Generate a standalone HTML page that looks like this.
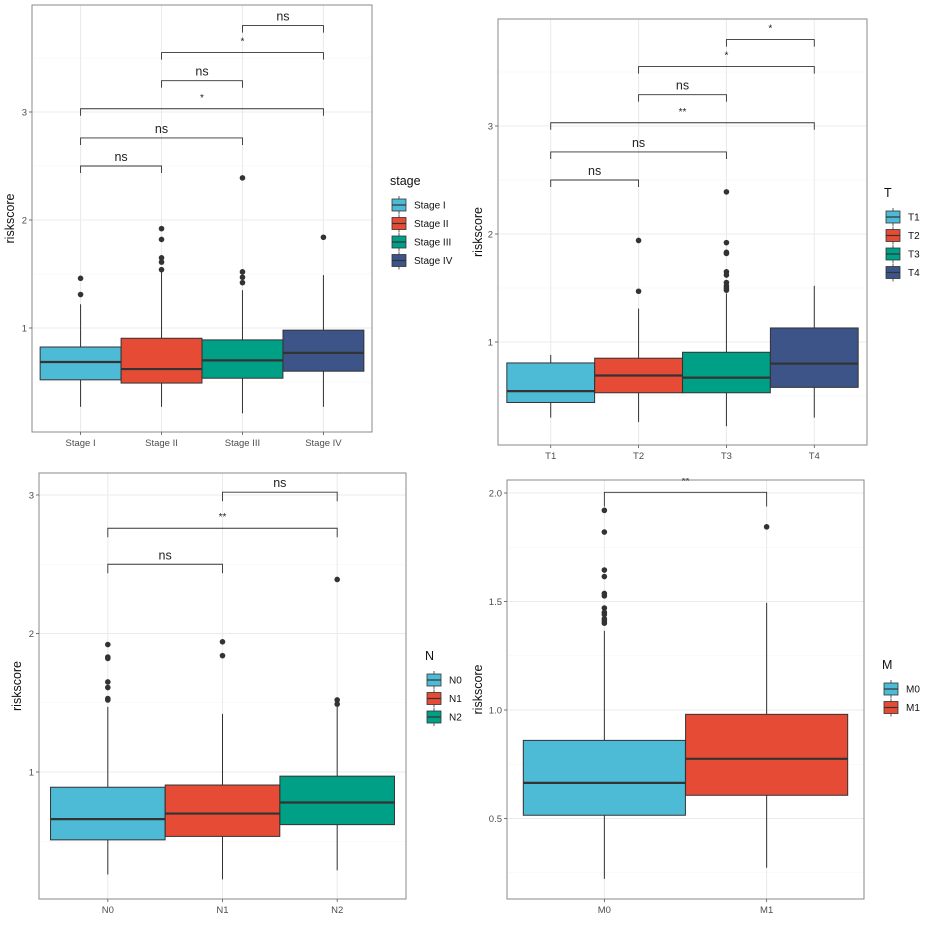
<!DOCTYPE html>
<html><head><meta charset="utf-8"><style>
html,body{margin:0;padding:0;background:#fff;}
svg{display:block;font-family:"Liberation Sans",Arial,sans-serif;}
</style></head><body>
<svg id="fig" width="933" height="933" viewBox="0 0 933 933"></svg>
<script>
const NS="http://www.w3.org/2000/svg";
const COLORS=["#4DBBD5","#E64B35","#00A087","#3C5488"];

// ---- Panel A: stage ----
const stageCats=["Stage I","Stage II","Stage III","Stage IV"];
const stageQ1=[0.52,0.49,0.535,0.60];
const stageMed=[0.685,0.62,0.70,0.77];
const stageQ3=[0.824,0.905,0.89,0.98];
const stageLo=[0.27,0.27,0.21,0.27];
const stageHi=[1.22,1.53,1.35,1.49];
const stageOut=[[1.46,1.31],[1.92,1.82,1.65,1.61,1.54],[2.39,1.52,1.47,1.42],[1.84]];
const stageBr=[[0,1,2.5,"ns"],[0,2,2.76,"ns"],[0,3,3.03,"*"],[1,2,3.29,"ns"],[1,3,3.55,"*"],[2,3,3.8,"ns"]];
const stageTicks=[1,2,3];

// ---- Panel B: T ----
const tCats=["T1","T2","T3","T4"];
const tQ1=[0.44,0.53,0.53,0.58];
const tMed=[0.545,0.69,0.67,0.80];
const tQ3=[0.806,0.85,0.905,1.13];
const tLo=[0.30,0.26,0.22,0.30];
const tHi=[0.88,1.31,1.45,1.52];
const tOut=[[],[1.94,1.47],[2.39,1.92,1.83,1.82,1.65,1.62,1.55,1.52,1.50,1.48],[]];
const tBr=[[0,1,2.5,"ns"],[0,2,2.76,"ns"],[0,3,3.03,"**"],[1,2,3.29,"ns"],[1,3,3.55,"*"],[2,3,3.8,"*"]];
const tTicks=[1,2,3];

// ---- Panel C: N ----
const nCats=["N0","N1","N2"];
const nQ1=[0.51,0.535,0.62];
const nMed=[0.66,0.70,0.78];
const nQ3=[0.89,0.906,0.97];
const nLo=[0.26,0.225,0.29];
const nHi=[1.47,1.42,1.47];
const nOut=[[1.92,1.83,1.82,1.65,1.61,1.53,1.52],[1.94,1.84],[2.39,1.52,1.49]];
const nBr=[[0,1,2.5,"ns"],[0,2,2.76,"**"],[1,2,3.02,"ns"]];
const nTicks=[1,2,3];

// ---- Panel D: M ----
const mCats=["M0","M1"];
const mQ1=[0.515,0.607];
const mMed=[0.664,0.775];
const mQ3=[0.86,0.98];
const mLo=[0.222,0.273];
const mHi=[1.365,1.494];
const mOut=[[1.92,1.82,1.645,1.615,1.537,1.526,1.47,1.45,1.44,1.42,1.41,1.40],[1.844]];
const mBr=[[0,1,2.003,"**"]];
const mTicks=[0.5,1.0,1.5,2.0];

function mk(tag,attrs,parent){const e=document.createElementNS(NS,tag);for(const k in attrs)e.setAttribute(k,attrs[k]);parent.appendChild(e);return e;}
const svg=document.getElementById("fig");

function panel(o){
  const g=mk("g",{},svg);
  
  
  const clipId=o.name+"-clip";
  const cp=mk("clipPath",{id:clipId},g);
  mk("rect",{x:o.x0,y:o.clipTop||o.y0,width:o.x1-o.x0,height:o.y1-(o.clipTop||o.y0)},cp);
  const y=v=>o.yRef-(v-o.vRef)*o.ppu;
  const n=o.cats.length;
  const step=(o.x1-o.x0)/(n+0.2);
  const x=i=>o.x0+step*(0.6+i);
  const bw=step*0.999;
  // grid
  const grid=mk("g",{},g);
  
  
  const half=(o.ticks[1]-o.ticks[0])/2;
  for(let v=o.ticks[0]-4*half; v<=o.ticks[o.ticks.length-1]+4*half+1e-9; v+=half){
    const yy=y(v); if(yy<o.y0||yy>o.y1) continue;
    const major=o.ticks.some(t=>Math.abs(t-v)<1e-6);
    mk("line",{x1:o.x0,x2:o.x1,y1:yy,y2:yy,stroke:major?"#ebebeb":"#f4f4f4","stroke-width":major?1.1:0.6},grid);
  }
  for(let i=0;i<n;i++) mk("line",{x1:x(i),x2:x(i),y1:o.y0,y2:o.y1,stroke:"#ebebeb","stroke-width":1.1},grid);
  // boxes
  const marks=mk("g",{"clip-path":`url(#${clipId})`},g);
  for(let i=0;i<n;i++){
    const cx=x(i);
    const w=mk("line",{x1:cx,x2:cx,y1:y(o.hi[i]),y2:y(o.q3[i]),stroke:"#333","stroke-width":1},marks);
    
    
    const w2=mk("line",{x1:cx,x2:cx,y1:y(o.q1[i]),y2:y(o.lo[i]),stroke:"#333","stroke-width":1},marks);
    
    
    const r=mk("rect",{x:cx-bw/2,y:y(o.q3[i]),width:bw,height:y(o.q1[i])-y(o.q3[i]),fill:COLORS[i],stroke:"#333","stroke-width":1},marks);
    
    
    const m=mk("line",{x1:cx-bw/2,x2:cx+bw/2,y1:y(o.med[i]),y2:y(o.med[i]),stroke:"#333","stroke-width":2.2},marks);
    
    
    for(const v of o.out[i]){
      const c=mk("circle",{cx:cx,cy:y(v),r:2.8,fill:"#333"},marks);
      
      
    }
  }
  // brackets
  const tk=o.ppu*0.065;
  for(const b of o.br){
    const xa=x(b[0]),xb=x(b[1]),yy=y(b[2]);
    const p=mk("path",{d:`M${xa},${yy+tk}V${yy}H${xb}V${yy+tk}`,fill:"none",stroke:"#333","stroke-width":0.9},marks);
    
    
    const isNs=b[3]==="ns";
    const t=mk("text",{x:(xa+xb)/2,y:isNs?yy-5:yy-8,"text-anchor":"middle","font-size":isNs?12.5:10,fill:"#222"},marks);
    t.textContent=b[3];
    
    
  }
  // border
  const bd=mk("rect",{x:o.x0,y:o.y0,width:o.x1-o.x0,height:o.y1-o.y0,fill:"none",stroke:"#8a8a8a","stroke-width":1},g);
  
  
  // y ticks
  for(const v of o.ticks){
    const yy=y(v);
    mk("line",{x1:o.x0-3,x2:o.x0,y1:yy,y2:yy,stroke:"#555","stroke-width":0.8},g);
    const t=mk("text",{x:o.x0-5,y:yy+3.5,"text-anchor":"end","font-size":9.5,fill:"#4d4d4d"},g);
    t.textContent=o.fmt?v.toFixed(1):String(v);
    
    
  }
  // x ticks
  for(let i=0;i<n;i++){
    mk("line",{x1:x(i),x2:x(i),y1:o.y1,y2:o.y1+3,stroke:"#555","stroke-width":0.8},g);
    const t=mk("text",{x:x(i),y:o.y1+14,"text-anchor":"middle","font-size":9.5,fill:"#4d4d4d"},g);
    t.textContent=o.cats[i];
    
    
  }
  // y title
  const yt=mk("text",{x:0,y:0,transform:`translate(${o.ylx},${(o.y0+o.y1)/2}) rotate(-90)`,"text-anchor":"middle","font-size":12.5,fill:"#111"},g);
  yt.textContent="riskscore";
  
  
  // legend
  const lg=mk("g",{},g);
  
  
  const lt=mk("text",{x:o.lx,y:o.ly,"font-size":12.5,fill:"#111"},lg);
  lt.textContent=o.title;
  
  
  for(let i=0;i<n;i++){
    const ky=o.ly+20+i*18.5;
    const e=mk("g",{},lg);
    
    
    mk("line",{x1:o.lx+9,x2:o.lx+9,y1:ky-9,y2:ky+9,stroke:"#333","stroke-width":0.8},e);
    mk("rect",{x:o.lx+2,y:ky-6,width:14,height:12,fill:COLORS[i],stroke:"#333","stroke-width":0.8},e);
    mk("line",{x1:o.lx+2,x2:o.lx+16,y1:ky,y2:ky,stroke:"#333","stroke-width":1.2},e);
    const tt=mk("text",{x:o.lx+24,y:ky+3.5,"font-size":10,fill:"#111"},e);
    tt.textContent=o.cats[i];
  }
}

panel({name:"stage",title:"stage",cats:stageCats,q1:stageQ1,med:stageMed,q3:stageQ3,lo:stageLo,hi:stageHi,out:stageOut,br:stageBr,ticks:stageTicks,
  x0:32,x1:372,y0:5,y1:432,yRef:328,vRef:1,ppu:108,ylx:14,lx:390,ly:185});
panel({name:"t-stage",title:"T",cats:tCats,q1:tQ1,med:tMed,q3:tQ3,lo:tLo,hi:tHi,out:tOut,br:tBr,ticks:tTicks,
  x0:498,x1:867,y0:19,y1:445,yRef:342,vRef:1,ppu:108,ylx:482,lx:884,ly:197});
panel({name:"n-stage",title:"N",cats:nCats,q1:nQ1,med:nMed,q3:nQ3,lo:nLo,hi:nHi,out:nOut,br:nBr,ticks:nTicks,
  x0:39,x1:406,y0:473,y1:899,yRef:772,vRef:1,ppu:138.5,ylx:21,lx:425,ly:660});
panel({name:"m-stage",title:"M",cats:mCats,q1:mQ1,med:mMed,q3:mQ3,lo:mLo,hi:mHi,out:mOut,br:mBr,ticks:mTicks,fmt:true,
  x0:507,x1:864,y0:480,y1:899,clipTop:478,yRef:710,vRef:1,ppu:217,ylx:482,lx:882,ly:669});
</script>
</body></html>
